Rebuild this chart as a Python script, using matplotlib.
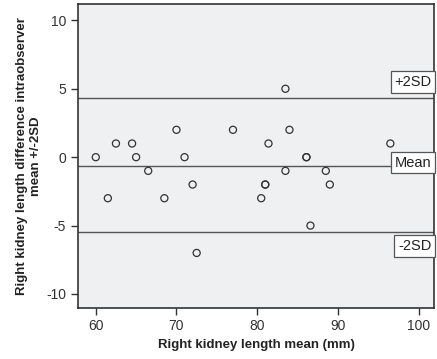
import numpy as np
import matplotlib.pyplot as plt

plt.rcParams['font.family'] = ['Liberation Sans', 'DejaVu Sans']
plt.rcParams['axes.unicode_minus'] = False

# Bland-Altman: mean of two measurements vs. their difference
kidney_mean = [60.0, 61.5, 62.5, 64.5, 65.0, 66.5, 68.5, 70.0, 71.0, 72.0,
               72.5, 77.0, 80.5, 81.0, 81.0, 81.4, 83.5, 83.5, 84.0, 86.1,
               86.1, 86.6, 88.5, 89.0, 96.5]
kidney_diff = [0, -3, 1, 1, 0, -1, -3, 2, 0, -2,
               -7, 2, -3, -2, -2, 1, 5, -1, 2, 0,
               0, -5, -1, -2, 1]
upper_sd = 4.3
mean_diff = -0.65
lower_sd = -5.5

fig = plt.figure(figsize=(4.37, 3.59), dpi=100)
ax = fig.add_axes([0.1785, 0.143, 0.8145, 0.846])
ax.set_facecolor('#eef0f2')

ax.scatter(kidney_mean, kidney_diff, s=26, facecolors='none',
           edgecolors='#333333', linewidths=0.9, zorder=3)

for yv in (upper_sd, mean_diff, lower_sd):
    ax.axhline(yv, color='#555555', lw=1.0, zorder=2)

box = dict(boxstyle='square,pad=0.25', fc='white', ec='#555555', lw=0.9)
trans = ax.get_yaxis_transform()
ax.text(0.993, 5.5, '+2SD', transform=trans, ha='right', va='center',
        fontsize=10.5, color='#222222', bbox=box, zorder=4)
ax.text(0.993, -0.4, 'Mean', transform=trans, ha='right', va='center',
        fontsize=10.5, color='#222222', bbox=box, zorder=4)
ax.text(0.993, -6.5, '-2SD', transform=trans, ha='right', va='center',
        fontsize=10.5, color='#222222', bbox=box, zorder=4)

ax.set_xlim(57.8, 101.9)
ax.set_ylim(-11.0, 11.2)
ax.set_xticks([60, 70, 80, 90, 100])
ax.set_yticks([-10, -5, 0, 5, 10])
ax.tick_params(direction='out', length=5, width=1, colors='#333333',
               labelsize=10, labelcolor='#333333')

for sp in ax.spines.values():
    sp.set_color('#333333')
    sp.set_linewidth(1.2)

ax.set_xlabel('Right kidney length mean (mm)', fontsize=9.5,
              fontweight='bold', color='#222222', labelpad=4)
ax.set_ylabel('Right kidney length difference intraobserver\nmean +/-2SD',
              fontsize=9.5, fontweight='bold', color='#222222', labelpad=3)

fig.savefig('out.png', dpi=100)
